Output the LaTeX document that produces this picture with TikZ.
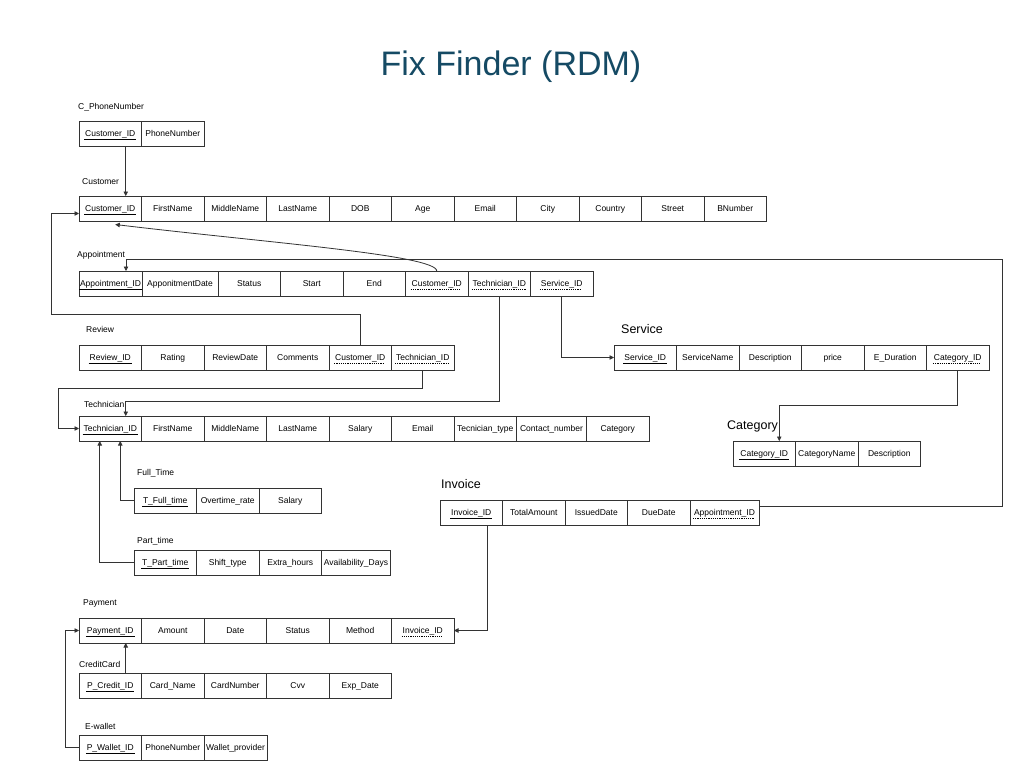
\documentclass[tikz,border=0pt]{standalone}
\usepackage{fontspec}
\setmainfont{Liberation Sans}
\usepackage{xcolor}
\usepackage{tikz}
\usetikzlibrary{shapes,arrows.meta,positioning,calc}

\definecolor{titleblue}{HTML}{154A64}

% primary key: solid underline, foreign key: dashed underline
\newcommand{\pkey}[1]{\vtop{\hbox{\kern1pt#1\kern1pt}\kern1.4pt\hrule height 0.55pt}}
\newcommand{\fkey}[1]{\setbox0\hbox{\kern1pt#1\kern1pt}\vtop{\copy0\kern1.7pt\nointerlineskip\hbox to\wd0{\leaders\hbox to 2.2pt{\vrule height 0.5pt width 1.2pt\hss}\hfill}}}

\tikzset{
    cell/.style={draw=black!80, line width=0.8pt, minimum width=62.5pt, minimum height=25pt,
        inner sep=0pt, outer sep=0pt, text height=6.4pt, text depth=1.4pt,
        font=\fontsize{8.5}{10}\selectfont},
    tname/.style={anchor=base west, inner sep=0pt, font=\fontsize{8.5}{10}\selectfont},
    tbig/.style={anchor=base west, inner sep=0pt, font=\fontsize{12.5}{14}\selectfont},
    link/.style={draw=black!80, line width=0.8pt, -{Triangle[length=4.5pt,width=4.5pt]}},
}

\begin{document}
\begin{tikzpicture}[x=1pt, y=-1pt]
    \useasboundingbox (0,0) rectangle (1015,763);

    % Title
    \node[anchor=base, text=titleblue, font=\fontsize{34}{40}\selectfont] (title) at (511,75) {Fix Finder (RDM)};

    % C_PhoneNumber
    \node[tname] (phlbl) at (78,109) {C\_PhoneNumber};
    \node[cell, anchor=north west] (ph1) at (79,121) {\pkey{Customer\_ID}};
    \node[cell, right=0pt of ph1] (ph2) {PhoneNumber};

    % Customer
    \node[tname] (culbl) at (82,184) {Customer};
    \node[cell, anchor=north west] (cu1) at (79,196) {\pkey{Customer\_ID}};
    \node[cell, right=0pt of cu1] (cu2) {FirstName};
    \node[cell, right=0pt of cu2] (cu3) {MiddleName};
    \node[cell, right=0pt of cu3] (cu4) {LastName};
    \node[cell, right=0pt of cu4] (cu5) {DOB};
    \node[cell, right=0pt of cu5] (cu6) {Age};
    \node[cell, right=0pt of cu6] (cu7) {Email};
    \node[cell, right=0pt of cu7] (cu8) {City};
    \node[cell, right=0pt of cu8] (cu9) {Country};
    \node[cell, right=0pt of cu9] (cu10) {Street};
    \node[cell, right=0pt of cu10] (cu11) {BNumber};

    % Appointment
    \node[tname] (aplbl) at (77,257.5) {Appointment};
    \node[cell, anchor=north west, minimum width=63pt] (ap1) at (79,271) {\pkey{Appointment\_ID}};
    \node[cell, right=0pt of ap1, minimum width=76pt] (ap2) {ApponitmentDate};
    \node[cell, right=0pt of ap2] (ap3) {Status};
    \node[cell, right=0pt of ap3] (ap4) {Start};
    \node[cell, right=0pt of ap4] (ap5) {End};
    \node[cell, right=0pt of ap5] (ap6) {\fkey{Customer\_ID}};
    \node[cell, right=0pt of ap6] (ap7) {\fkey{Technician\_ID}};
    \node[cell, right=0pt of ap7] (ap8) {\fkey{Service\_ID}};

    % Review
    \node[tname] (rvlbl) at (86,332) {Review};
    \node[cell, anchor=north west] (rv1) at (79,345) {\pkey{Review\_ID}};
    \node[cell, right=0pt of rv1] (rv2) {Rating};
    \node[cell, right=0pt of rv2] (rv3) {ReviewDate};
    \node[cell, right=0pt of rv3] (rv4) {Comments};
    \node[cell, right=0pt of rv4] (rv5) {\fkey{Customer\_ID}};
    \node[cell, right=0pt of rv5] (rv6) {\fkey{Technician\_ID}};

    % Technician
    \node[tname] (telbl) at (84,407) {Technician};
    \node[cell, anchor=north west] (te1) at (79,416) {\pkey{Technician\_ID}};
    \node[cell, right=0pt of te1] (te2) {FirstName};
    \node[cell, right=0pt of te2] (te3) {MiddleName};
    \node[cell, right=0pt of te3] (te4) {LastName};
    \node[cell, right=0pt of te4] (te5) {Salary};
    \node[cell, right=0pt of te5] (te6) {Email};
    \node[cell, right=0pt of te6] (te7) {Tecnician\_type};
    \node[cell, right=0pt of te7, minimum width=70pt] (te8) {Contact\_number};
    \node[cell, right=0pt of te8] (te9) {Category};

    % Full_Time
    \node[tname] (ftlbl) at (137,475) {Full\_Time};
    \node[cell, anchor=north west] (ft1) at (134,488) {\pkey{T\_Full\_time}};
    \node[cell, right=0pt of ft1] (ft2) {Overtime\_rate};
    \node[cell, right=0pt of ft2] (ft3) {Salary};

    % Part_time
    \node[tname] (ptlbl) at (137,543) {Part\_time};
    \node[cell, anchor=north west] (pt1) at (134,550) {\pkey{T\_Part\_time}};
    \node[cell, right=0pt of pt1] (pt2) {Shift\_type};
    \node[cell, right=0pt of pt2] (pt3) {Extra\_hours};
    \node[cell, right=0pt of pt3, minimum width=69pt] (pt4) {Availability\_Days};

    % Payment
    \node[tname] (palbl) at (83,605) {Payment};
    \node[cell, anchor=north west] (pa1) at (79,618) {\pkey{Payment\_ID}};
    \node[cell, right=0pt of pa1] (pa2) {Amount};
    \node[cell, right=0pt of pa2] (pa3) {Date};
    \node[cell, right=0pt of pa3] (pa4) {Status};
    \node[cell, right=0pt of pa4] (pa5) {Method};
    \node[cell, right=0pt of pa5] (pa6) {\fkey{Invoice\_ID}};

    % CreditCard
    \node[tname] (cclbl) at (79,667) {CreditCard};
    \node[cell, anchor=north west] (cc1) at (79,673) {\pkey{P\_Credit\_ID}};
    \node[cell, right=0pt of cc1] (cc2) {Card\_Name};
    \node[cell, right=0pt of cc2] (cc3) {CardNumber};
    \node[cell, right=0pt of cc3] (cc4) {Cvv};
    \node[cell, right=0pt of cc4] (cc5) {Exp\_Date};

    % E-wallet
    \node[tname] (ewlbl) at (85,729.5) {E-wallet};
    \node[cell, anchor=north west] (ew1) at (79,735) {\pkey{P\_Wallet\_ID}};
    \node[cell, right=0pt of ew1] (ew2) {PhoneNumber};
    \node[cell, right=0pt of ew2, minimum width=63pt] (ew3) {Wallet\_provider};

    % Invoice
    \node[tbig] (inlbl) at (441,488.5) {Invoice};
    \node[cell, anchor=north west] (in1) at (440,500) {\pkey{Invoice\_ID}};
    \node[cell, right=0pt of in1] (in2) {TotalAmount};
    \node[cell, right=0pt of in2] (in3) {IssuedDate};
    \node[cell, right=0pt of in3] (in4) {DueDate};
    \node[cell, right=0pt of in4, minimum width=69pt] (in5) {\fkey{Appointment\_ID}};

    % Service
    \node[tbig] (svlbl) at (621,333.5) {Service};
    \node[cell, anchor=north west] (sv1) at (614,345) {\pkey{Service\_ID}};
    \node[cell, right=0pt of sv1] (sv2) {ServiceName};
    \node[cell, right=0pt of sv2] (sv3) {Description};
    \node[cell, right=0pt of sv3] (sv4) {price};
    \node[cell, right=0pt of sv4] (sv5) {E\_Duration};
    \node[cell, right=0pt of sv5] (sv6) {\fkey{Category\_ID}};

    % Category
    \node[tbig] (calbl) at (727,429.5) {Category};
    \node[cell, anchor=north west] (ca1) at (733,441) {\pkey{Category\_ID}};
    \node[cell, right=0pt of ca1] (ca2) {CategoryName};
    \node[cell, right=0pt of ca2] (ca3) {Description};

    % Links to Customer
    \draw[link] ([xshift=15.5pt]ph1.south) -- ([xshift=15.5pt]cu1.north);
    \draw[link] (rv5.north) -- ++(0,-31) -| ([xshift=-28pt,yshift=-5pt]cu1.west) -- ([yshift=-5pt]cu1.west);
    \draw[link] (ap6.north) .. controls +(0,-16) and +(150,18) .. ([xshift=5pt,yshift=-3.5pt]cu1.south);

    % Links to Appointment
    \draw[link] ([yshift=6pt]in5.east) -- ++(243,0) |- ([xshift=15.5pt,yshift=12pt]ap1.north) -- ([xshift=15.5pt]ap1.north);

    % Links to Technician
    \draw[link] (ap7.south) -- ++(0,105) -| ([xshift=15.5pt]te1.north);
    \draw[link] (rv6.south) -- ++(0,18) -| ([xshift=-21pt]te1.west) -- (te1.west);
    \draw[link] (ft1.west) -| ([xshift=10pt]te1.south);
    \draw[link] (pt1.west) -| ([xshift=-10.5pt]te1.south);

    % Links to Service and Category
    \draw[link] (ap8.south) |- (sv1.west);
    \draw[link] (sv6.south) -- ++(0,35) -| ([xshift=15pt]ca1.north);

    % Links to Payment
    \draw[link] ([xshift=16pt]in1.south) |- (pa6.east);
    \draw[link] ([xshift=15.5pt]cc1.north) -- ([xshift=15.5pt]pa1.south);
    \draw[link] (ew1.west) -- ++(-14,0) |- (pa1.west);
\end{tikzpicture}
\end{document}
